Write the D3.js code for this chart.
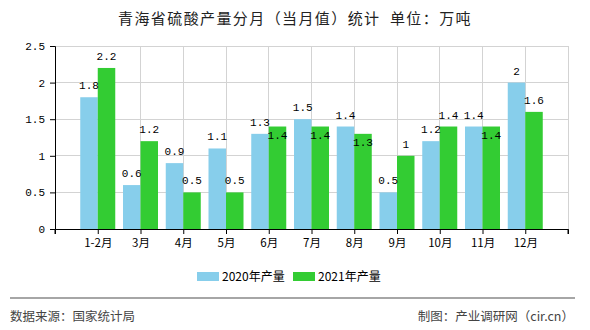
<!DOCTYPE html>
<html><head><meta charset="utf-8">
<script src="https://cdn.jsdelivr.net/npm/d3@7"></script>
<style>
body{margin:0;background:#fff;}
svg{display:block;}
</style></head>
<body>
<svg id="chart" width="590" height="330"></svg>
<script>
const categories = ["1-2月","3月","4月","5月","6月","7月","8月","9月","10月","11月","12月"];
const values2020 = [1.8,0.6,0.9,1.1,1.3,1.5,1.4,0.5,1.2,1.4,2];
const values2021 = [2.2,1.2,0.5,0.5,1.4,1.4,1.3,1,1.4,1.4,1.6];
const seriesNames = ["2020年产量","2021年产量"];
const yTicks = [0,0.5,1,1.5,2,2.5];
const titleText = "青海省硫酸产量分月（当月值）统计  单位：万吨";
const sourceText = "数据来源：国家统计局";
const creditText = "制图：产业调研网（cir.cn）";

const colors = ["#87CEEB","#33CC33"];
const svg = d3.select("#chart");
const pLeft = 55, pRight = 568, pTop = 46, pBottom = 229;

const x = d3.scalePoint().domain(categories).range([pLeft, pRight]).padding(1);
const y = d3.scaleLinear().domain([0, 2.5]).range([pBottom, pTop]);
const barW = 17.5;

// grid
const g = svg.append("g");
g.selectAll("line.h").data(yTicks.filter(d => d > 0)).join("line")
  .attr("x1", pLeft).attr("x2", pRight)
  .attr("y1", d => y(d)).attr("y2", d => y(d))
  .attr("stroke", "#d3d3d3").attr("stroke-width", 1).attr("shape-rendering","crispEdges");
g.selectAll("line.v").data(categories.slice(1)).join("line")
  .attr("x1", d => x(d)).attr("x2", d => x(d))
  .attr("y1", pTop).attr("y2", pBottom)
  .attr("stroke", "#d3d3d3").attr("stroke-width", 1).attr("shape-rendering","crispEdges");
g.append("line").attr("x1", pRight).attr("x2", pRight).attr("y1", pTop).attr("y2", pBottom)
  .attr("stroke", "#d3d3d3").attr("shape-rendering","crispEdges");

// bars
const series = [values2020, values2021];
series.forEach((vals, si) => {
  svg.append("g").selectAll("rect").data(vals).join("rect")
    .attr("x", (d, i) => x(categories[i]) + (si === 0 ? -barW : 0))
    .attr("y", d => y(d))
    .attr("width", barW)
    .attr("height", d => pBottom - y(d))
    .attr("fill", colors[si]);
});

// labels
const labelFont = "'Liberation Mono','DejaVu Sans Mono',monospace";
const lg = svg.append("g").attr("font-family", labelFont).attr("font-size", 11).attr("fill", "#000").attr("text-anchor","middle");
categories.forEach((c, i) => {
  const yb = y(values2020[i]) - 8;
  let yg = y(values2021[i]) - 8;
  if (Math.abs(yb - yg) < 12) yg = y(values2021[i]) + 12;
  lg.append("text").attr("x", x(c) - barW/2).attr("y", yb).text(values2020[i]);
  lg.append("text").attr("x", x(c) + barW/2).attr("y", yg).text(values2021[i]);
});

// axes
const yAxis = d3.axisLeft(y).tickValues(yTicks).tickSize(5).tickFormat(d => d);
const ya = svg.append("g").attr("transform", `translate(${pLeft},0)`).call(yAxis);
ya.select(".domain").attr("stroke", "#000");
ya.selectAll("text").attr("font-family", labelFont).attr("font-size", 11).attr("fill","#000").attr("dx", -2);

const xAxis = d3.axisBottom(x).tickSize(5).tickSizeOuter(5);
const xa = svg.append("g").attr("transform", `translate(0,${pBottom})`).call(xAxis);
xa.select(".domain").attr("stroke", "#000");
xa.selectAll("text").attr("font-family", "'Noto Sans CJK SC',sans-serif").attr("font-size", 11.5).attr("fill","#000").attr("dy", "0.9em");
[pLeft, pRight].forEach(px => xa.append("line").attr("x1", px).attr("x2", px).attr("y1", 0).attr("y2", 5).attr("stroke","#000"));

// title
svg.append("text").attr("x", 295).attr("y", 24).attr("text-anchor","middle")
  .attr("font-family","'Noto Sans CJK SC',sans-serif").attr("font-size", 15)
  .attr("letter-spacing", 1.4).attr("fill","#222").attr("xml:space","preserve")
  .style("white-space","pre").text(titleText);

// legend
const legend = svg.append("g").attr("font-family","'Noto Sans CJK SC',sans-serif").attr("font-size", 12);
const legX = [197, 293];
seriesNames.forEach((n, i) => {
  legend.append("rect").attr("x", legX[i]).attr("y", 272).attr("width", 22).attr("height", 9).attr("fill", colors[i]);
  legend.append("text").attr("x", legX[i] + 25).attr("y", 281).attr("fill","#000").text(n);
});

// footer
svg.append("line").attr("x1", 10).attr("x2", 575).attr("y1", 298).attr("y2", 298).attr("stroke","#888").attr("stroke-width", 1.5);
svg.append("text").attr("x", 10).attr("y", 321).attr("font-family","'Noto Sans CJK SC',sans-serif").attr("font-size", 12.5).attr("fill","#444").text(sourceText);
svg.append("text").attr("x", 574).attr("y", 321).attr("text-anchor","end").attr("font-family","'Noto Sans CJK SC',sans-serif").attr("font-size", 12.5).attr("fill","#444").text(creditText);
</script>
</body></html>
